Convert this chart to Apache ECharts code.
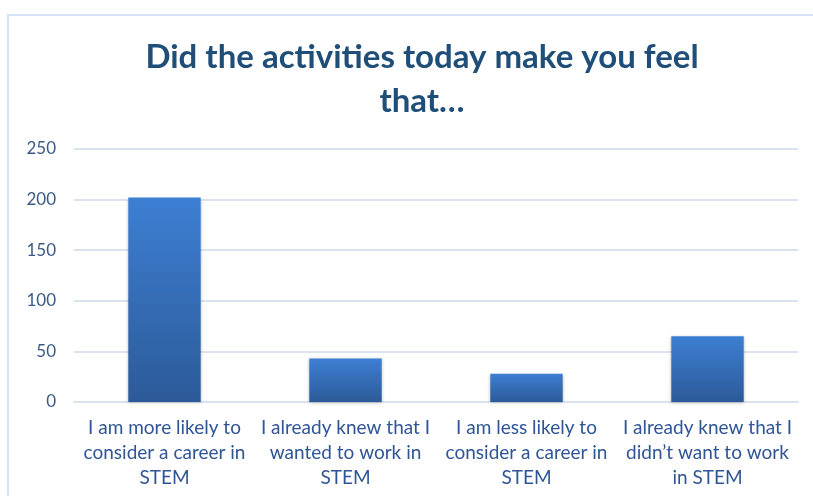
<!DOCTYPE html>
<html>
<head>
<meta charset="utf-8">
<script src="https://cdn.jsdelivr.net/npm/echarts@6/dist/echarts.min.js"></script>
<style>
  html, body { margin: 0; padding: 0; background: #ffffff; }
  #chart { width: 813px; height: 496px; }
</style>
</head>
<body>
<div id="chart"></div>
<script>
// Survey responses: "Did the activities today make you feel that..."
const categories = [
  'I am more likely to\nconsider a career in\nSTEM',
  'I already knew that I\nwanted to work in\nSTEM',
  'I am less likely to\nconsider a career in\nSTEM',
  'I already knew that I\ndidn\u2019t want to work\nin STEM'
];
const responses = [202, 43, 28, 65];
const yTicks = { min: 0, max: 250, interval: 50 };

const fontFamily = 'Lato, "Open Sans", sans-serif';

const chart = echarts.init(document.getElementById('chart'), null, { renderer: 'canvas' });

chart.setOption({
  backgroundColor: '#ffffff',
  animation: false,
  graphic: [{
    type: 'rect',
    shape: { x: 8, y: 15, width: 830, height: 520 },
    style: { fill: 'none', stroke: '#d6e3f4', lineWidth: 2 },
    silent: true,
    z: 0
  }],
  title: {
    text: 'Did the activities today make you feel\nthat\u2026',
    left: 417,
    top: 30,
    textAlign: 'center',
    textStyle: {
      fontFamily: fontFamily,
      fontWeight: 'bold',
      fontSize: 33,
      lineHeight: 44,
      color: '#1f4e79'
    }
  },
  grid: { left: 74, right: 15, top: 149, bottom: 94 },
  xAxis: {
    type: 'category',
    data: categories,
    axisLine: { show: true, lineStyle: { color: '#d9e3f0', width: 2 } },
    axisTick: { show: false },
    axisLabel: {
      interval: 0,
      margin: 13,
      fontFamily: fontFamily,
      fontSize: 19,
      lineHeight: 25,
      color: '#2f5597',
      align: 'center'
    }
  },
  yAxis: {
    type: 'value',
    min: yTicks.min,
    max: yTicks.max,
    interval: yTicks.interval,
    axisLine: { show: false },
    axisTick: { show: false },
    splitLine: { lineStyle: { color: '#d9e3f0', width: 2 } },
    axisLabel: {
      margin: 18,
      fontFamily: fontFamily,
      fontSize: 17,
      color: '#3b5a85'
    }
  },
  series: [{
    type: 'bar',
    data: responses,
    barWidth: '40%',
    itemStyle: {
      color: new echarts.graphic.LinearGradient(0, 0, 0, 1, [
        { offset: 0, color: '#3d7fd3' },
        { offset: 1, color: '#2c5a98' }
      ]),
      shadowColor: 'rgba(0,0,0,0.25)',
      shadowBlur: 3,
      shadowOffsetY: 1
    }
  }]
});
</script>
</body>
</html>
